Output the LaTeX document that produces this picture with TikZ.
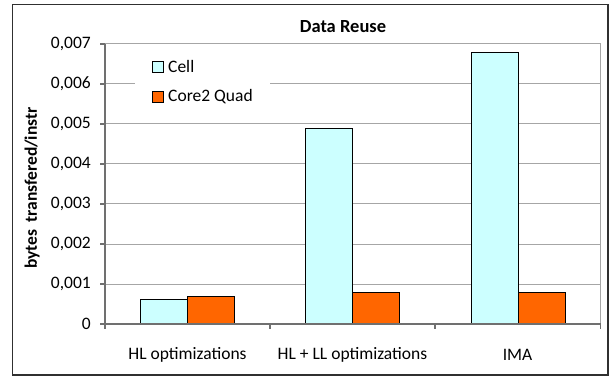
\documentclass[tikz,border=0pt]{standalone}
\usepackage{fontspec}
\setmainfont{Carlito}
\definecolor{cellc}{HTML}{CCFFFF}
\definecolor{corec}{HTML}{FF6600}
\definecolor{gridc}{HTML}{A6A6A6}
\definecolor{axisc}{HTML}{707070}
\definecolor{framec}{HTML}{303030}
\begin{document}
\begin{tikzpicture}[x=1pt,y=-1pt,
  gridline/.style={draw=gridc,line width=1pt},
  axisline/.style={draw=axisc,line width=1.2pt},
  cellbar/.style={fill=cellc,draw=black,line width=0.8pt},
  corebar/.style={fill=corec,draw=black,line width=0.8pt},
  ticklab/.style={anchor=east,font=\fontsize{17.5}{17.5}\selectfont,inner sep=0pt},
  catlab/.style={anchor=center,font=\fontsize{17.5}{17.5}\selectfont,inner sep=0pt},
  leglab/.style={anchor=west,font=\fontsize{17.5}{17.5}\selectfont,inner sep=0pt}]
\useasboundingbox (0,0) rectangle (611,377);
% outer frame
\draw[draw=framec,line width=1.5pt] (12.5,4.7) rectangle (608,375);
% title
\node[font=\bfseries\fontsize{18.5}{18.5}\selectfont,inner sep=0pt] (title) at (343,27) {Data Reuse};
% gridlines (0.001 .. 0.007), 40 px per 0.001
\foreach \i in {1,...,7}{
  \draw[gridline] (105,{324-40*\i}) -- (600.7,{324-40*\i});
}
% plot right border
\draw[gridline] (600.7,44) -- (600.7,324);
% legend background
\fill[white] (135,50) rectangle (270,115);
% bars
\foreach \x/\c in {140/6.2, 305/49, 471/68}{
  \draw[cellbar] (\x,324) rectangle ({\x+47.3},{324-4*\c});
}
\draw[corebar] (187.3,324) rectangle (234.6,296);
\draw[corebar] (352.3,324) rectangle (399.6,292);
\draw[corebar] (518.3,324) rectangle (565.6,292);
% axes
\draw[axisline] (105,44) -- (105,324);
\draw[axisline] (100,324) -- (600.7,324);
\foreach \i in {0,...,7}{
  \draw[axisline] (100,{324-40*\i}) -- (105,{324-40*\i});
}
\foreach \x in {105,270,435,600.7}{
  \draw[axisline] (\x,324) -- (\x,329);
}
% tick labels
\node[ticklab] (t0) at (91,324) {0};
\node[ticklab] (t1) at (91,284) {0,001};
\node[ticklab] (t2) at (91,244) {0,002};
\node[ticklab] (t3) at (91,204) {0,003};
\node[ticklab] (t4) at (91,164) {0,004};
\node[ticklab] (t5) at (91,124) {0,005};
\node[ticklab] (t6) at (91,84) {0,006};
\node[ticklab] (t7) at (91,44) {0,007};
% category labels
\node[catlab] (c1) at (187.5,355) {HL optimizations};
\node[catlab] (c2) at (352.5,355) {HL + LL optimizations};
\node[catlab] (c3) at (517.5,355) {IMA};
% y axis label
\node[font=\bfseries\fontsize{17.5}{17.5}\selectfont,rotate=90,inner sep=0pt] (ylab) at (32,188) {bytes\, transfered/instr};
% legend
\draw[fill=cellc,draw=black,line width=0.8pt] (152,61) rectangle (163,72);
\node[leglab] (l1) at (168,66.5) {Cell};
\draw[fill=corec,draw=black,line width=0.8pt] (152,91) rectangle (163,102);
\node[leglab] (l2) at (168,96.5) {Core2 Quad};
\end{tikzpicture}
\end{document}
